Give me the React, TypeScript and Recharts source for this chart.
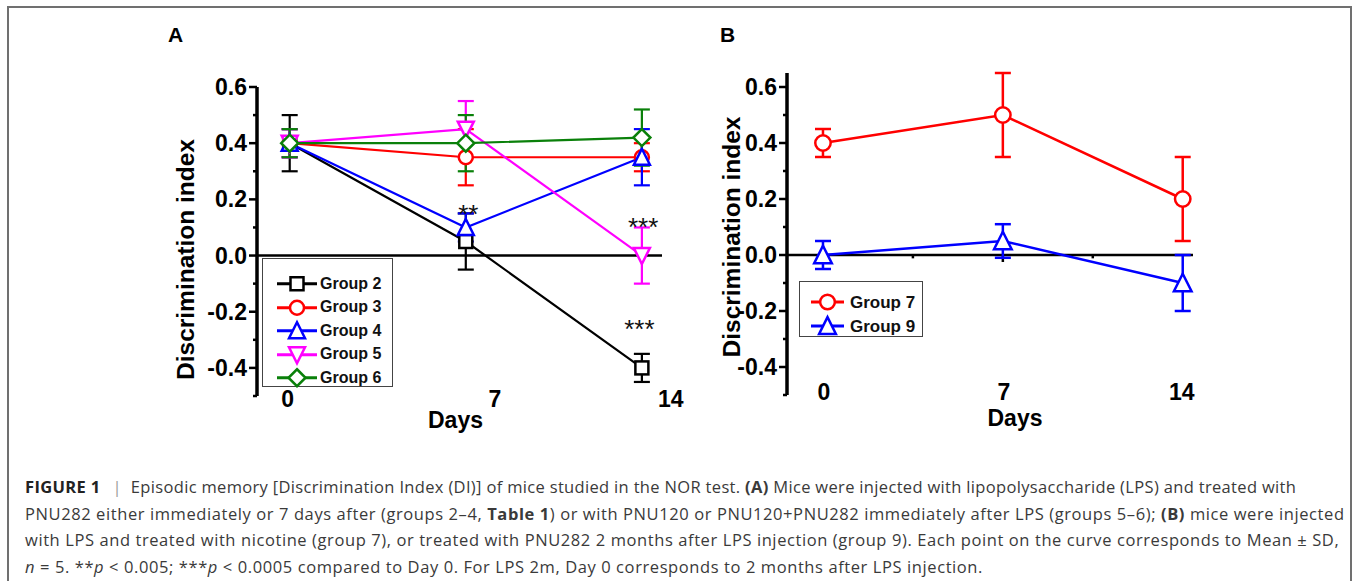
import React from "react";
import { LineChart, Line, XAxis, YAxis, ErrorBar, ReferenceLine, ReferenceDot, Legend } from "recharts";

// x values (days)
const days = [0, 7, 14];
const dayLabels = ["0", "7", "14"];

// panel A: mean and SD per group
const group2 = [0.4, 0.05, -0.4];
const group2Sd = [0.1, 0.1, 0.05];
const group3 = [0.4, 0.35, 0.35];
const group3Sd = [0.05, 0.1, 0.05];
const group4 = [0.4, 0.1, 0.35];
const group4Sd = [0.05, 0.05, 0.1];
const group5 = [0.4, 0.45, 0];
const group5Sd = [0.05, 0.1, 0.1];
const group6 = [0.4, 0.4, 0.42];
const group6Sd = [0.05, 0.1, 0.1];

// panel B
const group7 = [0.4, 0.5, 0.2];
const group7Sd = [0.05, 0.15, 0.15];
const group9 = [0, 0.05, -0.1];
const group9Sd = [0.05, 0.06, 0.1];

// significance marks in panel A (day, value)
const starsA = [
  { day: 7.1, y: 0.165, text: "**" },
  { day: 14.05, y: 0.12, text: "***" },
  { day: 13.9, y: -0.245, text: "***" },
];

const yTicksA = [-0.5, -0.4, -0.3, -0.2, -0.1, 0, 0.1, 0.2, 0.3, 0.4, 0.5, 0.6];
const yTicksB = yTicksA;
const minorX_B = [3.5, 7, 10.5];

const tableA = days.map((d, i) => ({
  day: d,
  g2: group2[i], g2Sd: group2Sd[i],
  g3: group3[i], g3Sd: group3Sd[i],
  g4: group4[i], g4Sd: group4Sd[i],
  g5: group5[i], g5Sd: group5Sd[i],
  g6: group6[i], g6Sd: group6Sd[i],
}));

const tableB = days.map((d, i) => ({
  day: d,
  g7: group7[i], g7Sd: group7Sd[i],
  g9: group9[i], g9Sd: group9Sd[i],
}));

const seriesA = [
  { key: "g2", name: "Group 2", color: "#000000", shape: "square" },
  { key: "g3", name: "Group 3", color: "#ff0000", shape: "circle" },
  { key: "g4", name: "Group 4", color: "#0000ff", shape: "up" },
  { key: "g5", name: "Group 5", color: "#ff00ff", shape: "down" },
  { key: "g6", name: "Group 6", color: "#0a800a", shape: "diamond" },
];

const seriesB = [
  { key: "g7", name: "Group 7", color: "#ff0000", shape: "circle" },
  { key: "g9", name: "Group 9", color: "#0000ff", shape: "up" },
];

const FONT = "'Liberation Sans', Arial, Helvetica, sans-serif";
const CAPTION_FONT = "'Open Sans', 'Liberation Sans', Arial, sans-serif";

function Marker({ cx, cy, shape, color, s = 1 }: any) {
  const common = { fill: "#fff", stroke: color, strokeWidth: 2.5 };
  if (shape === "square") {
    const h = 6.5 * s;
    return <rect x={cx - h} y={cy - h} width={2 * h} height={2 * h} {...common} />;
  }
  if (shape === "circle") return <circle cx={cx} cy={cy} r={7 * s} {...common} />;
  if (shape === "up") {
    const w = 8 * s, h = 7.5 * s;
    return <polygon points={`${cx - w},${cy + h} ${cx + w},${cy + h} ${cx},${cy - h - 1}`} {...common} />;
  }
  if (shape === "down") {
    const w = 8 * s, h = 7.5 * s;
    return <polygon points={`${cx - w},${cy - h} ${cx + w},${cy - h} ${cx},${cy + h + 1}`} {...common} />;
  }
  const d = 8.5 * s;
  return <polygon points={`${cx},${cy - d} ${cx + d},${cy} ${cx},${cy + d} ${cx - d},${cy}`} {...common} />;
}

const makeDot = (shape: string, color: string, s = 1) => (p: any) => {
  if (p.cx == null || p.cy == null) return <g key={p.key} />;
  return (
    <g key={p.key}>
      <Marker cx={p.cx} cy={p.cy} shape={shape} color={color} s={s} />
    </g>
  );
};

const YTick = (props: any) => {
  const { x, y, payload } = props;
  const v = Math.round(payload.value * 10);
  const major = v % 2 === 0;
  const len = major ? 8 : 4;
  return (
    <g>
      <line x1={x - len} x2={x} y1={y} y2={y} stroke="#000" strokeWidth={2.5} />
      {major && (
        <text x={x - 10} y={y} textAnchor="end" dominantBaseline="central" fontSize={23} fontWeight="bold" fontFamily={FONT} fill="#000">
          {(payload.value).toFixed(1)}
        </text>
      )}
    </g>
  );
};

const makeXTick = (shifts: number[], dy: number) => (props: any) => {
  const { x, y, index } = props;
  return (
    <text x={x + (shifts[index] || 0)} y={y + dy} textAnchor="middle" dominantBaseline="central" fontSize={23} fontWeight="bold" fontFamily={FONT} fill="#000">
      {dayLabels[index]}
    </text>
  );
};

const daysLabel = (dx: number, dy: number) => (p: any) => {
  const vb = p.viewBox;
  return (
    <text x={vb.x + vb.width / 2 + dx} y={vb.y + dy} textAnchor="middle" dominantBaseline="central" fontSize={23} fontWeight="bold" fontFamily={FONT} fill="#000">
      Days
    </text>
  );
};

const yLabel = (dx: number, dy: number) => (p: any) => {
  const vb = p.viewBox;
  const cx = vb.x + dx;
  const cy = vb.y + vb.height / 2 + dy;
  return (
    <text x={cx} y={cy} transform={`rotate(-90, ${cx}, ${cy})`} textAnchor="middle" dominantBaseline="central" fontSize={24.5} fontWeight="bold" fontFamily={FONT} fill="#000">
      Discrimination index
    </text>
  );
};

function LegendBox({ items, rowH, padTop, padLeft, lineLen, gap, fontSize, s }: any) {
  return (
    <div style={{ boxSizing: "border-box", width: "100%", height: "100%", border: "1.5px solid #444", background: "#fff", paddingTop: padTop, paddingLeft: padLeft }}>
      {items.map((it: any) => (
        <div key={it.key} style={{ display: "flex", alignItems: "center", height: rowH }}>
          <svg width={lineLen} height={rowH} style={{ display: "block" }}>
            <line x1={0} x2={lineLen} y1={rowH / 2} y2={rowH / 2} stroke={it.color} strokeWidth={3} />
            <Marker cx={lineLen / 2} cy={rowH / 2} shape={it.shape} color={it.color} s={s} />
          </svg>
          <span style={{ marginLeft: gap, fontSize, fontWeight: "bold", fontFamily: FONT, color: "#111", lineHeight: 1, whiteSpace: "nowrap" }}>
            {it.name}
          </span>
        </div>
      ))}
    </div>
  );
}

const starShape = (text: string) => (p: any) => (
  <text x={p.cx} y={p.cy + 14} textAnchor="middle" fontSize={26} fontFamily={FONT} fill="#111">
    {text}
  </text>
);

function PanelA() {
  return (
    <LineChart width={540} height={380} data={tableA} margin={{ top: 27, right: 28, left: 27, bottom: 14 }}>
      <XAxis
        type="number"
        dataKey="day"
        domain={[-1.3, 14.8]}
        ticks={days}
        interval={0}
        axisLine={false}
        tickLine={false}
        tickSize={0}
        tickMargin={0}
        height={30}
        tick={makeXTick([-2, 29, 29], 3)}
        label={{ content: daysLabel(-4, 24) }}
      />
      <YAxis
        type="number"
        domain={[-0.5, 0.6]}
        ticks={yTicksA}
        interval={0}
        width={80}
        axisLine={{ stroke: "#000", strokeWidth: 3.5 }}
        tickLine={false}
        tickSize={0}
        tickMargin={0}
        tick={<YTick />}
        label={{ content: yLabel(8, 18) }}
      />
      <ReferenceLine y={0} stroke="#000" strokeWidth={2.5} />
      {seriesA.map((s) => (
        <Line
          key={s.key}
          dataKey={s.key}
          name={s.name}
          type="linear"
          stroke={s.color}
          strokeWidth={2.2}
          dot={makeDot(s.shape, s.color)}
          activeDot={false}
          isAnimationActive={false}
        >
          <ErrorBar dataKey={`${s.key}Sd`} width={8} strokeWidth={2.2} stroke={s.color} direction="y" />
        </Line>
      ))}
      {starsA.map((st, i) => (
        <ReferenceDot key={i} x={st.day} y={st.y} r={0} ifOverflow="visible" shape={starShape(st.text)} />
      ))}
      <Legend
        layout="horizontal"
        verticalAlign="middle"
        align="center"
        wrapperStyle={{ left: 112, top: 198, width: 131, height: 129 }}
        content={() => (
          <LegendBox items={seriesA} rowH={23.5} padTop={13} padLeft={14} lineLen={40} gap={3} fontSize={16} s={1} />
        )}
      />
    </LineChart>
  );
}

function PanelB() {
  return (
    <LineChart width={520} height={400} data={tableB} margin={{ top: 33, right: 27, left: 17, bottom: 15 }}>
      <XAxis
        type="number"
        dataKey="day"
        domain={[-1.4, 14.4]}
        ticks={days}
        interval={0}
        axisLine={false}
        tickLine={false}
        tickSize={0}
        tickMargin={0}
        height={30}
        tick={makeXTick([1, 1, -1], -3)}
        label={{ content: daysLabel(25, 23) }}
      />
      <YAxis
        type="number"
        domain={[-0.5, 0.65]}
        ticks={yTicksB}
        interval={0}
        width={70}
        axisLine={{ stroke: "#000", strokeWidth: 3.5 }}
        tickLine={false}
        tickSize={0}
        tickMargin={0}
        tick={<YTick />}
        label={{ content: yLabel(14, 3) }}
      />
      <ReferenceLine y={0} stroke="#000" strokeWidth={2.5} />
      {minorX_B.map((d) => (
        <ReferenceLine key={d} segment={[{ x: d, y: 0 }, { x: d, y: d === 7 ? -0.025 : -0.012 }]} stroke="#000" strokeWidth={2.5} ifOverflow="visible" />
      ))}
      {seriesB.map((s) => (
        <Line
          key={s.key}
          dataKey={s.key}
          name={s.name}
          type="linear"
          stroke={s.color}
          strokeWidth={2.5}
          dot={makeDot(s.shape, s.color, 1.1)}
          activeDot={false}
          isAnimationActive={false}
        >
          <ErrorBar dataKey={`${s.key}Sd`} width={8} strokeWidth={2.5} stroke={s.color} direction="y" />
        </Line>
      ))}
      <Legend
        layout="horizontal"
        verticalAlign="middle"
        align="center"
        wrapperStyle={{ left: 99, top: 241, width: 124, height: 56 }}
        content={() => (
          <LegendBox items={seriesB} rowH={24} padTop={8} padLeft={11} lineLen={33} gap={6} fontSize={17} s={1.05} />
        )}
      />
    </LineChart>
  );
}

const captionStyle: React.CSSProperties = {
  position: "absolute",
  left: 25,
  top: 474,
  fontFamily: CAPTION_FONT,
  fontSize: 16.5,
  lineHeight: "26.5px",
  letterSpacing: "0.59px",
  color: "#3a3a3a",
  whiteSpace: "nowrap",
};

export default function App() {
  return (
    <div style={{ position: "absolute", left: 0, top: 0, width: 1356, height: 581, overflow: "hidden", background: "#fff" }}>
      <div style={{ position: "absolute", left: 7, top: 6, width: 1341, height: 620, border: "2px solid #707070" }} />
      <div style={{ position: "absolute", left: 168, top: 23, fontFamily: FONT, fontWeight: "bold", fontSize: 21 }}>A</div>
      <div style={{ position: "absolute", left: 720, top: 23, fontFamily: FONT, fontWeight: "bold", fontSize: 21 }}>B</div>
      <div style={{ position: "absolute", left: 150, top: 60 }}>
        <PanelA />
      </div>
      <div style={{ position: "absolute", left: 700, top: 40 }}>
        <PanelB />
      </div>
      <div style={captionStyle}>
        <div style={{ letterSpacing: "0.33px" }}>
          <b style={{ color: "#222" }}>FIGURE 1</b>
          <span style={{ color: "#999", margin: "0 9px 0 12px" }}>|</span>Episodic memory [Discrimination Index (DI)] of mice studied in the NOR test. <b>(A)</b> Mice were injected with lipopolysaccharide (LPS) and treated with
        </div>
        <div>
          PNU282 either immediately or 7 days after (groups 2–4, <b>Table 1</b>) or with PNU120 or PNU120+PNU282 immediately after LPS (groups 5–6); <b>(B)</b> mice were injected
        </div>
        <div>
          with LPS and treated with nicotine (group 7), or treated with PNU282 2 months after LPS injection (group 9). Each point on the curve corresponds to Mean ± SD,
        </div>
        <div>
          <i>n</i> = 5. **<i>p</i> &lt; 0.005; ***<i>p</i> &lt; 0.0005 compared to Day 0. For LPS 2m, Day 0 corresponds to 2 months after LPS injection.
        </div>
      </div>
    </div>
  );
}
